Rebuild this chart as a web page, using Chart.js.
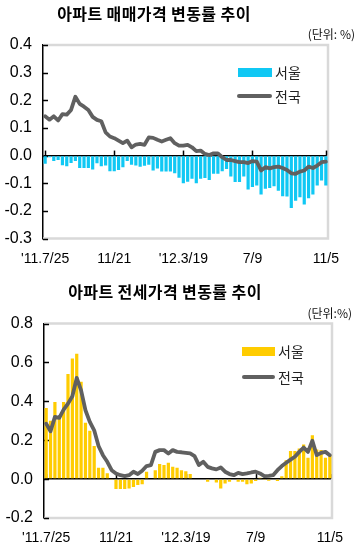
<!DOCTYPE html>
<html>
<head>
<meta charset="utf-8">
<script src="https://cdn.jsdelivr.net/npm/chart.js@4.4.1/dist/chart.umd.min.js"></script>
<style>
  html, body { margin:0; padding:0; background:#fff; }
  #wrap { position:relative; width:357px; height:551px; background:#fff; overflow:hidden; }
  canvas { position:absolute; left:0; }
  .t { position:absolute; white-space:nowrap; font-family:'Noto Sans CJK KR','Noto Sans',sans-serif; color:#000; }
  .title { font-weight:700; font-size:16px; line-height:16px; text-align:center; letter-spacing:0.4px; }
  .unit { font-size:12px; line-height:12px; text-align:right; color:#111; }
  .leg { font-size:14px; line-height:14px; color:#222; }
  .sw { position:absolute; }
</style>
</head>
<body>
<div id="wrap">
  <canvas id="c1" width="357" height="270" style="top:0"></canvas>
  <canvas id="c2" width="357" height="281" style="top:270px"></canvas>

  <div class="t title" style="left:0; width:308px; top:5px;">아파트 매매가격 변동률 추이</div>
  <div class="t unit" style="right:2px; top:28px;">(단위: %)</div>
  <div class="sw" style="left:238px; top:68px; width:34px; height:9px; background:#10C8F4;"></div>
  <div class="t leg" style="left:275px; top:65px;">서울</div>
  <div class="sw" style="left:237px; top:94px; width:35px; height:4px; border-radius:2px; background:#606060;"></div>
  <div class="t leg" style="left:275px; top:89px;">전국</div>

  <div class="t title" style="left:0; width:330px; top:283px;">아파트 전세가격 변동률 추이</div>
  <div class="t unit" style="right:5px; top:307px;">(단위:%)</div>
  <div class="sw" style="left:242px; top:347px; width:33px; height:9px; background:#FFCC00;"></div>
  <div class="t leg" style="left:278px; top:344px;">서울</div>
  <div class="sw" style="left:242px; top:375px; width:33px; height:4px; border-radius:2px; background:#606060;"></div>
  <div class="t leg" style="left:278px; top:370px;">전국</div>
</div>

<script>
// Weekly survey dates (holiday weeks 2011-09-12 and 2012-01-23 not surveyed)
const categories = [
  "2011-07-25","2011-08-01","2011-08-08","2011-08-15","2011-08-22","2011-08-29","2011-09-05","2011-09-19",
  "2011-09-26","2011-10-03","2011-10-10","2011-10-17","2011-10-24","2011-10-31","2011-11-07","2011-11-14",
  "2011-11-21","2011-11-28","2011-12-05","2011-12-12","2011-12-19","2011-12-26","2012-01-02","2012-01-09",
  "2012-01-16","2012-01-30","2012-02-06","2012-02-13","2012-02-20","2012-02-27","2012-03-05","2012-03-12",
  "2012-03-19","2012-03-26","2012-04-02","2012-04-09","2012-04-16","2012-04-23","2012-04-30","2012-05-07",
  "2012-05-14","2012-05-21","2012-05-28","2012-06-04","2012-06-11","2012-06-18","2012-06-25","2012-07-02",
  "2012-07-09","2012-07-16","2012-07-23","2012-07-30","2012-08-06","2012-08-13","2012-08-20","2012-08-27",
  "2012-09-03","2012-09-10","2012-09-17","2012-09-24","2012-10-01","2012-10-08","2012-10-15","2012-10-22",
  "2012-10-29","2012-11-05"
];
const tickDates  = ["2011-07-25","2011-11-21","2012-03-19","2012-07-09","2012-11-05"];
const tickLabels = ["'11.7/25","11/21","'12.3/19","7/9","11/5"];

// 아파트 매매가격 변동률 (%)
const saleSeoul = [
  -0.03,-0.006,-0.02,-0.016,-0.035,-0.039,-0.027,-0.02,-0.045,-0.045,-0.045,-0.05,-0.028,-0.039,-0.036,-0.057,
  -0.057,-0.052,-0.042,-0.02,-0.033,-0.036,-0.04,-0.037,-0.033,-0.054,-0.047,-0.058,-0.058,-0.058,-0.064,-0.08,
  -0.1,-0.095,-0.084,-0.1,-0.084,-0.081,-0.088,-0.066,-0.066,-0.057,-0.049,-0.076,-0.096,-0.096,-0.076,-0.123,
  -0.114,-0.108,-0.141,-0.12,-0.117,-0.111,-0.127,-0.147,-0.148,-0.19,-0.163,-0.151,-0.177,-0.154,-0.141,-0.108,
  -0.09,-0.108
];
const saleNation = [
  0.142,0.13,0.142,0.127,0.15,0.148,0.165,0.213,0.187,0.177,0.165,0.14,0.129,0.124,0.084,0.069,
  0.063,0.054,0.045,0.054,0.03,0.04,0.042,0.039,0.066,0.064,0.057,0.051,0.057,0.063,0.045,0.036,
  0.036,0.039,0.03,0.016,0.018,0.006,0.002,0.008,0.008,-0.006,-0.016,-0.016,-0.02,-0.024,-0.024,-0.027,
  -0.02,-0.022,-0.054,-0.042,-0.046,-0.042,-0.04,-0.045,-0.052,-0.064,-0.066,-0.058,-0.054,-0.04,-0.045,-0.036,
  -0.024,-0.022
];

// 아파트 전세가격 변동률 (%)
const rentSeoul = [
  0.366,0.30,0.397,0.32,0.397,0.54,0.62,0.645,0.50,0.29,0.248,0.17,0.058,0.058,0.03,-0.005,
  -0.051,-0.051,-0.051,-0.048,-0.04,-0.03,-0.026,0.038,0,0.046,0.077,0.072,0.084,0.063,0.058,0.046,
  0.04,0.026,0,0.005,0.005,-0.014,0.004,-0.017,-0.048,-0.022,-0.014,0,-0.014,-0.014,-0.027,-0.022,
  -0.01,0.007,-0.005,-0.008,0,-0.01,0.015,0.097,0.145,0.145,0.157,0.178,0.11,0.225,0.152,0.149,
  0.11,0.123
];
const rentNation = [
  0.285,0.246,0.32,0.315,0.357,0.388,0.426,0.52,0.456,0.354,0.294,0.251,0.17,0.123,0.089,0.046,
  0.029,0.02,0.015,0.02,0.038,0.026,0.043,0.067,0.072,0.14,0.149,0.149,0.132,0.149,0.14,0.138,
  0.135,0.132,0.118,0.072,0.089,0.063,0.055,0.05,0.06,0.038,0.026,0.02,0.032,0.026,0.029,0.034,
  0.038,0.029,0.015,0.017,0.02,0.046,0.067,0.084,0.1,0.115,0.14,0.162,0.14,0.197,0.123,0.135,
  0.14,0.123
];

const seriesNames = ["서울","전국"];

const axisMarks = {
  id: 'axisMarks',
  beforeDatasetsDraw(chart) {
    const { ctx, chartArea: a, scales: { x, y } } = chart;
    ctx.save();
    ctx.strokeStyle = '#d9d9d9';
    ctx.lineWidth = 2.5;
    ctx.beginPath();
    ctx.moveTo(a.left, a.top); ctx.lineTo(a.right, a.top);
    ctx.lineTo(a.right, a.bottom); ctx.lineTo(a.left, a.bottom);
    ctx.stroke();
    ctx.strokeStyle = '#000';
    ctx.lineWidth = 1.5;
    y.ticks.forEach(t => {
      const py = Math.round(y.getPixelForValue(t.value)) + 0.5;
      ctx.beginPath(); ctx.moveTo(a.left, py); ctx.lineTo(a.left + 5, py); ctx.stroke();
    });
    const y0 = y.getPixelForValue(0);
    categories.forEach((c, i) => {
      if (tickDates.indexOf(c) >= 0) {
        const px = Math.round(x.getPixelForValue(i)) + 0.5;
        ctx.beginPath(); ctx.moveTo(px, y0); ctx.lineTo(px, y0 - 5); ctx.stroke();
      }
    });
    ctx.restore();
  }
};

function makeChart(id, bars, line, barColor, yMin, yMax, yStep, yWidth, xHeight, padTop, padRight) {
  return new Chart(document.getElementById(id), {
    type: 'bar',
    data: {
      labels: categories,
      datasets: [
        { type: 'line', label: seriesNames[1], data: line, borderColor: '#606060', borderWidth: 3.8,
          pointRadius: 0, tension: 0, order: 0, borderCapStyle: 'round', borderJoinStyle: 'round' },
        { type: 'bar', label: seriesNames[0], data: bars, backgroundColor: barColor,
          categoryPercentage: 1, barPercentage: 0.74, order: 1 }
      ]
    },
    options: {
      responsive: false,
      animation: false,
      devicePixelRatio: 1,
      layout: { padding: { top: padTop, right: padRight, left: 0, bottom: 0 } },
      plugins: { legend: { display: false }, title: { display: false }, tooltip: { enabled: false } },
      scales: {
        x: {
          grid: { display: false, drawTicks: false },
          border: { display: false },
          ticks: {
            autoSkip: false, maxRotation: 0, minRotation: 0, padding: 12,
            color: '#000', font: { family: "'Liberation Sans', Arial, sans-serif", size: 14 },
            callback: (v, i) => { const k = tickDates.indexOf(categories[i]); return k >= 0 ? tickLabels[k] : ''; }
          },
          afterFit: s => { s.height = xHeight; }
        },
        y: {
          min: yMin, max: yMax,
          grid: {
            drawTicks: false, lineWidth: 1.5,
            color: c => (Math.abs(c.tick.value) < 1e-9 ? '#000' : 'rgba(0,0,0,0)')
          },
          border: { display: true, color: '#000', width: 1.5 },
          ticks: {
            stepSize: yStep, padding: 11, color: '#000',
            font: { family: "'Liberation Sans', Arial, sans-serif", size: 16 },
            callback: v => Number(v).toFixed(1)
          },
          afterFit: s => { s.width = yWidth; }
        }
      }
    },
    plugins: [axisMarks]
  });
}

makeChart('c1', saleSeoul, saleNation, '#10C8F4', -0.3, 0.4, 0.1, 43, 31.5, 45, 29);
makeChart('c2', rentSeoul, rentNation, '#FFCC00', -0.2, 0.8, 0.2, 44, 33, 53.5, 25);
</script>
</body>
</html>
